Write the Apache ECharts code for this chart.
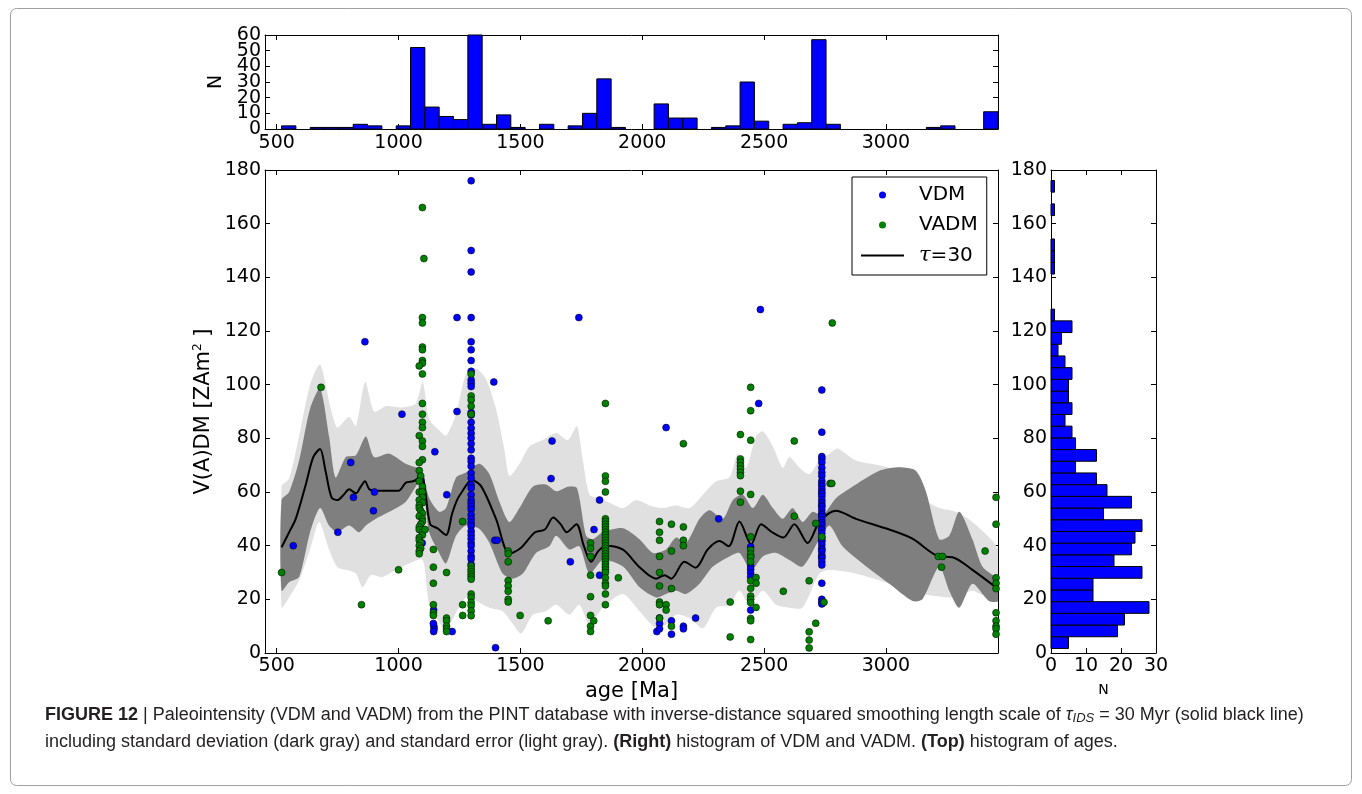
<!DOCTYPE html>
<html><head><meta charset="utf-8">
<script src="https://cdn.jsdelivr.net/npm/echarts@6/dist/echarts.min.js"></script>
<style>html,body{margin:0;padding:0;background:#fff}#c{width:1362px;height:794px}</style>
</head><body><div id="c"></div>
<script>
// ---------------- data ----------------
const ageTickValues = [500, 1000, 1500, 2000, 2500, 3000];
const ageMin = 452, ageMax = 3460;
const ageNTicks = [0, 10, 20, 30, 40, 50, 60];
const ageNLabelsEven = [0, 20, 40, 60];
const ageNLabelsOdd = [10, 30, 50];
const ageBinStart = 520, ageBinWidth = 58.8;
const ageCounts = [2,0,1,1,1,3,2,0,2,52, 14,8,6,60,3,9,1,0,3,0, 2,10,32,1,0,0,16,7,7,0, 1,2,30,5,0,3,4,57,3,0, 0,0,0,0,0,1,2,0,0,11];
const vBinStart = 1.7, vBinWidth = 4.36;
const vCounts = [5,19,21,28,12,12,26,18,23,24, 26,15,23,16,13,7,13,7,6,4, 6,5,5,6,4,2,3,6,1,0, 0,0,1,1,1,0,0,1,0,1];

const vdm = [
[568,40],[751,45],[804,71],[815,58],[862,116],[897,53],[901,60],[1014,89],
[1090,65],[1097,41],
[1144,16],[1145,10],[1146,9],[1144,8],[1143,11],[1149,75],
[1198,59],[1220,8],[1240,125],[1240,90],
[1298,176],[1298,150],[1298,142],[1298,125],[1298,116],[1298,113],[1298,109],[1298,105],[1298,101.7],[1298,100.5],[1298,99.3],[1298,89.6],[1298,88.7],[1298,86],[1298,83.8],[1298,81.9],[1298,80.1],[1298,78],[1298,75.7],[1298,72.6],[1298,71.4],[1298,69.6],[1298,67],[1298,65.2],[1298,62.7],[1298,61.5],[1298,59],[1298,57],[1298,55.9],[1298,54.7],[1298,53.5],[1298,51.5],[1298,50],[1298,48.5],[1298,47.3],[1298,45.4],[1298,44],[1298,42.6],[1298,41],[1298,39.9],[1298,38],[1298,36.1],[1298,35],[1298,33],
[1391,101],[1395,42],[1405,42],[1398,2],
[1626,65],[1630,79],[1705,34],[1740,125],[1802,46],[1825,57],[1825,29],
[2060,8],[2071,13],[2071,11],[2071,9],[2098,84],[2120,12],[2120,7],[2169,10],[2169,9],[2219,13],[2314,50],
[2445,39.6],[2445,36],[2445,32.4],[2445,31.2],[2445,29.9],[2445,28.4],[2445,16],
[2478,93],[2485,128],
[2737,98],[2737,82.3],[2737,73.2],[2737,72.3],[2737,71],[2737,69],[2737,67.3],[2737,66],[2737,64.1],[2737,63],[2737,62.2],[2737,61],[2737,60],[2737,59.3],[2737,58.3],[2737,57],[2737,56],[2737,55],[2737,54.5],[2737,53.3],[2737,52.1],[2737,51.5],[2737,50.8],[2737,49.6],[2737,48.5],[2737,47.7],[2737,46.5],[2737,45.8],[2737,44.6],[2737,43],[2737,42],[2737,41.5],[2737,40.3],[2737,39],[2737,38.5],[2737,37.8],[2737,36.5],[2737,35.8],[2737,35.3],[2737,34],[2737,32.8],[2737,26],[2737,20],[2737,19.1],[2737,18.3]
];

const vadm = [
[520,30],[682,99],[848,18],[1000,31],
[1098,166],[1104,147],[1098,125],[1098,123],[1098,114],[1098,113],[1098,109],[1098,108],[1085,107],[1098,104],[1098,93],[1098,89],[1098,86],[1098,84],[1085,81],[1098,79],[1098,77],[1098,72],[1085,71],[1085,68],[1091,66],[1085,64],[1098,62],[1085,60],[1098,60],[1098,58],[1085,57],[1098,56],[1085,55],[1085,54],[1091,53],[1098,52],[1085,51],[1098,50],[1098,49],[1091,48],[1085,47],[1085,46],[1098,45],[1098,44],[1085,43],[1085,42],[1091,41],[1085,40],[1091,39],[1085,38],[1085,37],
[1109,46],
[1143,38.6],[1143,32],[1143,26],[1143,18],[1143,15],[1143,14],
[1197,30],[1197,13],[1197,12],[1197,10],[1197,9],[1197,8],
[1263,49],[1263,18],[1263,14],
[1298,104],[1298,95.8],[1298,94.3],[1298,92],[1298,89],[1298,32.4],[1298,31.2],[1298,30.3],[1298,29.3],[1298,28.4],[1298,27.5],[1298,22],[1298,20.7],[1298,18.8],[1298,17.6],[1298,15.7],[1298,13.9],
[1450,38],[1450,37],[1450,34],[1450,27],[1450,25],[1450,23],[1450,20],[1450,19],
[1499,14],[1614,12],
[1788,41],[1788,39],[1788,36],[1788,29],[1788,21],[1788,14],[1788,10],[1788,8],[1801,12],
[1849,93],[1849,66],[1849,64],[1849,60],[1849,50],[1849,49],[1849,48],[1849,47],[1849,46],[1849,45],[1849,44],[1849,43],[1849,42],[1849,41],[1849,40],[1849,39],[1849,38],[1849,37],[1849,36],[1849,35],[1849,34],[1849,33],[1849,32],[1849,31],[1849,30],[1849,28],[1849,26],[1849,25],[1849,22],[1849,18],
[1902,28],
[2071,49],[2071,45],[2071,42],[2071,36],[2071,30],[2071,25],[2071,19],[2071,18],[2071,13],
[2098,18],[2098,16],
[2120,48],[2120,38],[2120,24],[2120,10],
[2169,78],[2169,47],[2169,42],[2169,40],
[2361,19],[2361,6],
[2403,81.4],[2403,72.3],[2403,71.1],[2403,69.8],[2403,68.6],[2403,67.3],[2403,66.1],[2403,60.3],[2403,56.2],
[2445,99],[2445,90.3],[2445,79.3],[2445,59.1],[2445,43.3],[2445,38.4],[2445,36.9],[2445,35.7],[2445,34],[2445,26.9],[2445,24.1],[2445,21.2],[2445,20],[2445,18.8],[2445,12.9],[2445,12],[2445,5],
[2467,28.1],[2467,26],[2467,17],
[2579,23],[2624,79],[2624,51],
[2685,26.9],[2685,7.9],[2685,4.8],[2685,1.9],
[2712,48.3],[2712,11.1],
[2737,43.3],[2746,18.9],
[2771,63.2],[2778,63.2],[2780,123],
[3215,36],[3232,36],[3228,32],
[3407,38],
[3452,58],[3452,48],[3452,28],[3452,26],[3452,24],[3452,15],[3452,12],[3452,10],[3452,9],[3452,7]
];

const tauLine = [
[520,39.4],[551,45],[578,50],[620,63],[650,73],[678,76],[700,68],[725,58],[749,57],[775,59],[797,61],[825,59.5],[845,62],[862,64],[880,61],[900,60.5],[1000,60.5],[1030,63.5],[1060,64],[1080,65],[1095,67],[1110,60],[1130,48],[1160,46.5],[1195,44],[1220,52],[1240,57],[1260,60],[1300,64.5],[1340,62],[1400,50],[1455,37],[1500,39],[1560,45],[1600,46],[1635,50.5],[1665,48],[1690,45],[1730,48],[1760,40],[1790,34],[1820,38],[1850,40],[1921,38.5],[1989,32],[2057,27.7],[2092,29],[2119,27.7],[2173,34],[2219,31.8],[2269,38.6],[2317,41.7],[2355,39.8],[2399,49],[2447,40.5],[2488,48],[2533,45],[2579,43],[2624,48],[2679,41],[2727,48.8],[2795,53],[2877,50],[3014,46],[3109,42.6],[3219,36],[3273,35.7],[3355,31],[3460,23.9]
];
// standard error (light gray)
const seUpper = [
[520,62],[551,65],[592,81],[637,100],[678,107.5],[722,91],[749,84],[797,88],[825,84.5],[863,101],[900,90],[948,92],[1016,91.5],[1071,93],[1099,101],[1126,87],[1167,83],[1195,81],[1236,89],[1277,104],[1318,106],[1359,102],[1400,91],[1434,76],[1455,66],[1496,70.5],[1537,77],[1592,79.4],[1647,82],[1695,79.4],[1732,84.5],[1756,72],[1784,59],[1825,57.7],[1866,56],[1921,54],[1975,57],[2030,55],[2085,54],[2139,55],[2194,54],[2249,59],[2303,64],[2358,65.4],[2392,74.3],[2426,69],[2467,80.7],[2495,82.6],[2536,77],[2577,69],[2604,73],[2645,69],[2686,66.6],[2727,71.7],[2768,74.3],[2802,76.2],[2877,71.7],[3014,69],[3096,64],[3150,57.7],[3219,54],[3287,52.6],[3355,48.8],[3460,38.6]
];
const seLower = [
[520,17],[551,20.7],[592,27],[637,38.6],[674,48.8],[715,38.6],[749,32],[784,31],[825,29.6],[852,24.5],[886,29],[934,28.3],[989,31],[1044,33.4],[1099,34.7],[1126,18],[1167,11.7],[1195,8.6],[1236,15],[1277,20.7],[1318,19.4],[1373,16.9],[1427,15.6],[1468,11],[1503,7.3],[1551,14.3],[1605,15.6],[1647,18],[1701,14.3],[1742,18],[1784,10.5],[1838,17],[1921,22],[1989,15.6],[2057,9.2],[2098,10.5],[2139,14.3],[2194,13],[2249,9.2],[2303,16.9],[2358,18],[2399,23.2],[2440,18],[2495,23.2],[2549,18],[2604,16.9],[2658,16.9],[2727,29.6],[2768,30.9],[2877,29.6],[3014,25.8],[3150,22],[3287,20.7],[3355,23.2],[3460,19.4]
];
// standard deviation (dark gray)
const sdUpper = [
[520,57],[551,60],[592,71.7],[637,91],[678,98.6],[715,80.7],[742,65.4],[784,73],[825,73.7],[866,80.7],[900,73],[962,74.3],[1030,70.5],[1092,68],[1126,57.7],[1167,52.6],[1195,54],[1236,65.4],[1277,67.3],[1332,70.5],[1373,66.6],[1414,56.4],[1455,48.8],[1496,54],[1551,62],[1605,62.8],[1647,60.3],[1695,62],[1732,61.5],[1770,43.7],[1797,42.4],[1838,45],[1921,46.5],[1989,42.4],[2044,37.3],[2098,38.6],[2139,43],[2180,41],[2235,50],[2276,53.2],[2331,50],[2372,57],[2413,59],[2454,54],[2495,59],[2536,54],[2577,50],[2617,54],[2658,48.8],[2699,52.6],[2740,51.3],[2795,57.7],[2877,62.8],[2973,67.9],[3055,69.2],[3123,67.9],[3164,60.3],[3219,42.4],[3260,43.7],[3301,52.6],[3355,42.4],[3396,32.2],[3460,27]
];
const sdLower = [
[520,23.2],[551,26.4],[592,28.3],[637,45],[678,54],[715,47.5],[749,45],[797,47.5],[838,45],[866,47.5],[907,50],[962,52.6],[1030,56.4],[1092,64],[1126,45],[1167,37.3],[1195,33.4],[1236,43.7],[1277,47.5],[1332,46.2],[1373,41],[1427,29.6],[1468,27.7],[1510,29.6],[1564,37.3],[1619,39.8],[1647,43.7],[1701,38.6],[1742,39.8],[1784,29.6],[1838,34.7],[1921,32.2],[1989,24.5],[2057,20.7],[2098,22],[2139,23.2],[2180,22],[2235,25.8],[2290,32.2],[2358,36],[2399,37.3],[2447,30.9],[2495,36],[2549,37.3],[2604,34.7],[2658,32.2],[2727,42.4],[2768,47.5],[2822,39.8],[2904,33.4],[3014,25.8],[3109,19.4],[3150,20],[3219,32.2],[3260,23.2],[3301,16.9],[3355,25.8],[3423,19.4],[3460,19.4]
];

const captionLine1 = '{b|FIGURE 12} | Paleointensity (VDM and VADM) from the PINT database with inverse-distance squared smoothing length scale of {it|τ}{sub|IDS} = 30 Myr (solid black line)';
const captionLine2 = 'including standard deviation (dark gray) and standard error (light gray). {b|(Right)} histogram of VDM and VADM. {b|(Top)} histogram of ages.';

// ---------------- chart ----------------
const FONT = 'DejaVu Sans';
const CAPFONT = 'Liberation Sans Narrow, Liberation Sans, Arial, sans-serif';
const CAPSIZE = 18;
const ageHist = ageCounts.map((n, i) => [ageBinStart + i * ageBinWidth, ageBinStart + (i + 1) * ageBinWidth, n]).filter(d => d[2] > 0);
const vHist = vCounts.map((n, i) => [vBinStart + i * vBinWidth, vBinStart + (i + 1) * vBinWidth, n]).filter(d => d[2] > 0);

const axLine = {show: true, onZero: false, lineStyle: {color: '#000', width: 1}};
const tick = {show: true, inside: true, length: 5, lineStyle: {color: '#000', width: 1}};
const plain = v => String(v);
const lab = {color: '#000', fontSize: 19, fontFamily: FONT, formatter: plain, showMinLabel: true, showMaxLabel: true, hideOverlap: false};
const noSplit = {show: false};

function bandRenderer(upper, lower, color) {
  return function (params, api) {
    if (params.dataIndex !== 0) return null;
    const pts = upper.map(p => api.coord(p)).concat(lower.slice().reverse().map(p => api.coord(p)));
    return {type: 'polygon', shape: {points: pts, smooth: 0.25}, style: {fill: color, stroke: null}, silent: true};
  };
}

const chart = echarts.init(document.getElementById('c'), null, {renderer: 'canvas'});
chart.setOption({
  animation: false,
  backgroundColor: '#fff',
  grid: [
    {left: 265, top: 170, width: 733, height: 483},
    {left: 265, top: 35, width: 733, height: 94},
    {left: 1051, top: 170, width: 105, height: 483}
  ],
  xAxis: [
    {gridIndex: 0, type: 'value', position: 'bottom', min: ageMin, max: ageMax, axisLine: axLine,
     axisTick: Object.assign({}, tick, {customValues: ageTickValues}),
     axisLabel: Object.assign({}, lab, {margin: 4, customValues: ageTickValues}), splitLine: noSplit,
     name: 'age [Ma]', nameLocation: 'middle', nameGap: 26, nameTextStyle: {color: '#000', fontSize: 21, fontFamily: FONT}},
    {gridIndex: 0, type: 'value', position: 'top', min: ageMin, max: ageMax, axisLine: axLine,
     axisTick: Object.assign({}, tick, {customValues: ageTickValues}), axisLabel: {show: false}, splitLine: noSplit},
    {gridIndex: 1, type: 'value', position: 'bottom', min: ageMin, max: ageMax, axisLine: axLine,
     axisTick: Object.assign({}, tick, {customValues: ageTickValues}),
     axisLabel: Object.assign({}, lab, {margin: 5, customValues: ageTickValues}), splitLine: noSplit},
    {gridIndex: 1, type: 'value', position: 'top', min: ageMin, max: ageMax, axisLine: axLine,
     axisTick: Object.assign({}, tick, {customValues: ageTickValues}), axisLabel: {show: false}, splitLine: noSplit},
    {gridIndex: 2, type: 'value', position: 'bottom', min: 0, max: 30, interval: 10, axisLine: axLine, axisTick: tick,
     axisLabel: Object.assign({}, lab, {margin: 4}), splitLine: noSplit,
     name: 'N', nameLocation: 'middle', nameGap: 30, nameTextStyle: {color: '#000', fontSize: 14, fontFamily: FONT}},
    {gridIndex: 2, type: 'value', position: 'top', min: 0, max: 30, interval: 10, axisLine: axLine, axisTick: tick,
     axisLabel: {show: false}, splitLine: noSplit}
  ],
  yAxis: [
    {gridIndex: 0, type: 'value', position: 'left', min: 0, max: 180, interval: 20, axisLine: axLine, axisTick: tick,
     axisLabel: Object.assign({}, lab, {margin: 4}), splitLine: noSplit,
     name: 'V(A)DM [ZAm{s|2} ]', nameLocation: 'middle', nameGap: 46,
     nameTextStyle: {color: '#000', fontSize: 21, fontFamily: FONT,
       rich: {s: {fontSize: 12, fontFamily: FONT, color: '#000', verticalAlign: 'top', padding: [0, 0, 10, 0]}}}},
    {gridIndex: 0, type: 'value', position: 'right', min: 0, max: 180, interval: 20, axisLine: axLine, axisTick: tick,
     axisLabel: {show: false}, splitLine: noSplit},
    {gridIndex: 1, type: 'value', position: 'left', min: 0, max: 60, axisLine: axLine,
     axisTick: Object.assign({}, tick, {customValues: ageNTicks}),
     axisLabel: Object.assign({}, lab, {margin: 4, customValues: ageNLabelsEven}), splitLine: noSplit,
     name: 'N', nameLocation: 'middle', nameGap: 34, nameTextStyle: {color: '#000', fontSize: 19, fontFamily: FONT}},
    {gridIndex: 1, type: 'value', position: 'right', min: 0, max: 60, axisLine: axLine,
     axisTick: Object.assign({}, tick, {customValues: ageNTicks}),
     axisLabel: {show: false}, splitLine: noSplit},
    {gridIndex: 2, type: 'value', position: 'left', min: 0, max: 180, interval: 20, axisLine: axLine, axisTick: tick,
     axisLabel: Object.assign({}, lab, {margin: 4}), splitLine: noSplit},
    {gridIndex: 2, type: 'value', position: 'right', min: 0, max: 180, interval: 20, axisLine: axLine, axisTick: tick,
     axisLabel: {show: false}, splitLine: noSplit},
    {gridIndex: 1, type: 'value', position: 'left', offset: 0, min: 0, max: 60, axisLine: {show: false},
     axisTick: {show: false},
     axisLabel: Object.assign({}, lab, {margin: 4, customValues: ageNLabelsOdd}), splitLine: noSplit}
  ],
  legend: {
    data: [
      {name: 'VDM', itemStyle: {color: '#0000ff', borderWidth: 0}},
      {name: 'VADM', itemStyle: {color: '#008000', borderWidth: 0}},
      {name: 'τ=30', itemStyle: {opacity: 0}}
    ],
    orient: 'vertical', left: 852, top: 177,
    padding: [8, 9, 9, 8], itemWidth: 43, itemHeight: 7, itemGap: 10,
    borderColor: '#000', borderWidth: 1, selectedMode: false, backgroundColor: '#fff',
    textStyle: {color: '#000', fontSize: 20, fontFamily: FONT, padding: [0, 0, 0, 10],
      rich: {t: {fontStyle: 'italic', fontSize: 21, fontFamily: 'DejaVu Serif', color: '#000'},
             n: {fontSize: 20, fontFamily: FONT, color: '#000'}}},
    formatter: function (n) { return n === 'τ=30' ? '{t|τ}{n|=30}' : n; }
  },
  series: [
    {type: 'custom', name: 'se', coordinateSystem: 'cartesian2d', xAxisIndex: 0, yAxisIndex: 0,
     data: [[ageMin, 0]], clip: true, silent: true, z: 1, renderItem: bandRenderer(seUpper, seLower, '#e0e0e0')},
    {type: 'custom', name: 'sd', coordinateSystem: 'cartesian2d', xAxisIndex: 0, yAxisIndex: 0,
     data: [[ageMin, 0]], clip: true, silent: true, z: 2, renderItem: bandRenderer(sdUpper, sdLower, '#7f7f7f')},
    {type: 'line', name: 'τ=30', xAxisIndex: 0, yAxisIndex: 0, data: tauLine, smooth: 0.3, symbol: 'none', showSymbol: false,
     lineStyle: {color: '#000', width: 2}, itemStyle: {color: '#000'}, z: 3, silent: true},
    {type: 'scatter', name: 'VDM', xAxisIndex: 0, yAxisIndex: 0, data: vdm, symbolSize: 7,
     itemStyle: {color: '#0000ff', borderColor: '#000', borderWidth: 0.5, opacity: 1}, z: 4},
    {type: 'scatter', name: 'VADM', xAxisIndex: 0, yAxisIndex: 0, data: vadm, symbolSize: 7,
     itemStyle: {color: '#008000', borderColor: '#000', borderWidth: 0.5, opacity: 1}, z: 4},
    {type: 'custom', name: 'ageHist', coordinateSystem: 'cartesian2d', xAxisIndex: 2, yAxisIndex: 2,
     data: ageHist, encode: {x: [0, 1], y: 2}, z: 2,
     renderItem: function (params, api) {
       const p0 = api.coord([api.value(0), api.value(2)]);
       const p1 = api.coord([api.value(1), 0]);
       return {type: 'rect', shape: {x: p0[0], y: p0[1], width: p1[0] - p0[0], height: p1[1] - p0[1]},
               style: {fill: '#0000ff', stroke: '#000', lineWidth: 1}};
     }},
    {type: 'custom', name: 'vHist', coordinateSystem: 'cartesian2d', xAxisIndex: 4, yAxisIndex: 4,
     data: vHist, encode: {x: 2, y: [0, 1]}, z: 2,
     renderItem: function (params, api) {
       const p0 = api.coord([0, api.value(1)]);
       const p1 = api.coord([api.value(2), api.value(0)]);
       return {type: 'rect', shape: {x: p0[0], y: p0[1], width: p1[0] - p0[0], height: p1[1] - p0[1]},
               style: {fill: '#0000ff', stroke: '#000', lineWidth: 1}};
     }}
  ],
  graphic: [
    {type: 'rect', silent: true, z: -10, shape: {x: 10.5, y: 8.5, width: 1341, height: 777, r: 6},
     style: {fill: 'none', stroke: '#a0a0a0', lineWidth: 1}},
    {type: 'text', silent: true, x: 45, y: 705,
     style: {text: captionLine1, fontSize: CAPSIZE, fontFamily: CAPFONT, fill: '#231f20',
       rich: {b: {fontWeight: 'bold', fontSize: CAPSIZE, fontFamily: CAPFONT, fill: '#231f20'},
              it: {fontStyle: 'italic', fontSize: CAPSIZE, fontFamily: CAPFONT, fill: '#231f20'},
              sub: {fontStyle: 'italic', fontSize: 13, fontFamily: CAPFONT, fill: '#231f20', verticalAlign: 'bottom', padding: [7, 0, 0, 0]}}}},
    {type: 'text', silent: true, x: 45, y: 733,
     style: {text: captionLine2, fontSize: CAPSIZE, fontFamily: CAPFONT, fill: '#231f20',
       rich: {b: {fontWeight: 'bold', fontSize: CAPSIZE, fontFamily: CAPFONT, fill: '#231f20'}}}}
  ]
});
</script></body></html>
